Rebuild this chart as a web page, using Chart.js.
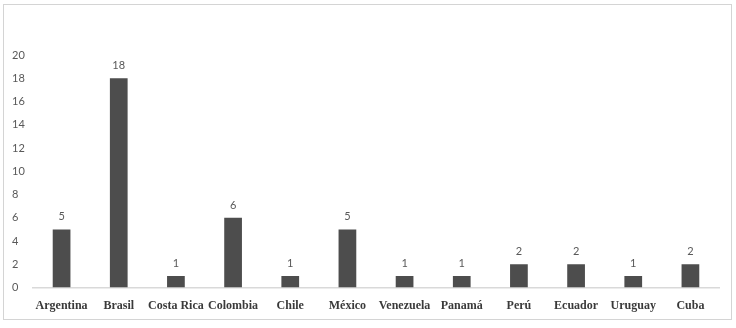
<!DOCTYPE html>
<html>
<head>
<meta charset="utf-8">
<script src="https://cdn.jsdelivr.net/npm/chart.js@4"></script>
<style>
  html, body { margin: 0; padding: 0; background: #fff; }
  #wrap { position: relative; width: 736px; height: 328px; }
  #frame {
    position: absolute; left: 3px; top: 4px; width: 727px; height: 314px;
    border: 1.5px solid #d4d4d4;
  }
  canvas { position: absolute; left: 0; top: 0; }
</style>
</head>
<body>
<div id="wrap">
  <div id="frame"></div>
  <canvas id="barChart" width="736" height="328"></canvas>
</div>
<script>
const countries = ["Argentina", "Brasil", "Costa Rica", "Colombia", "Chile", "México",
  "Venezuela", "Panamá", "Perú", "Ecuador", "Uruguay", "Cuba"];
const counts = [5, 18, 1, 6, 1, 5, 1, 1, 2, 2, 1, 2];

// etiquetas de valor encima de cada barra
const valueLabels = {
  id: "valueLabels",
  afterDatasetsDraw(chart) {
    const ctx = chart.ctx;
    const meta = chart.getDatasetMeta(0);
    ctx.save();
    ctx.font = "11px Lato";
    ctx.fillStyle = "#595959";
    ctx.textAlign = "center";
    ctx.textBaseline = "alphabetic";
    meta.data.forEach((bar, i) => {
      ctx.fillText(String(counts[i]), bar.x, bar.y - 9);
    });
    ctx.restore();
  },
};

const ctx = document.getElementById("barChart").getContext("2d");
new Chart(ctx, {
  type: "bar",
  data: {
    labels: countries,
    datasets: [
      {
        data: counts,
        backgroundColor: "#4d4d4d",
        barPercentage: 0.31,
        categoryPercentage: 1,
      },
    ],
  },
  options: {
    responsive: false,
    animation: false,
    layout: { padding: { left: 12, right: 17, top: 55, bottom: 12 } },
    plugins: {
      legend: { display: false },
      tooltip: { enabled: false },
    },
    scales: {
      x: {
        grid: { display: false },
        border: { display: true, color: "#d9d9d9", width: 1.5 },
        ticks: {
          color: "#3a3a3a",
          padding: 3,
          maxRotation: 0,
          autoSkip: false,
          font: { family: "Liberation Serif", size: 12, weight: "bold" },
        },
      },
      y: {
        min: 0,
        max: 20,
        grid: { display: false },
        border: { display: false },
        afterFit(scale) {
          scale.width = 21;
        },
        ticks: {
          stepSize: 2,
          color: "#595959",
          crossAlign: "far",
          font: { family: "Lato", size: 11 },
        },
      },
    },
  },
  plugins: [valueLabels],
});
</script>
</body>
</html>
